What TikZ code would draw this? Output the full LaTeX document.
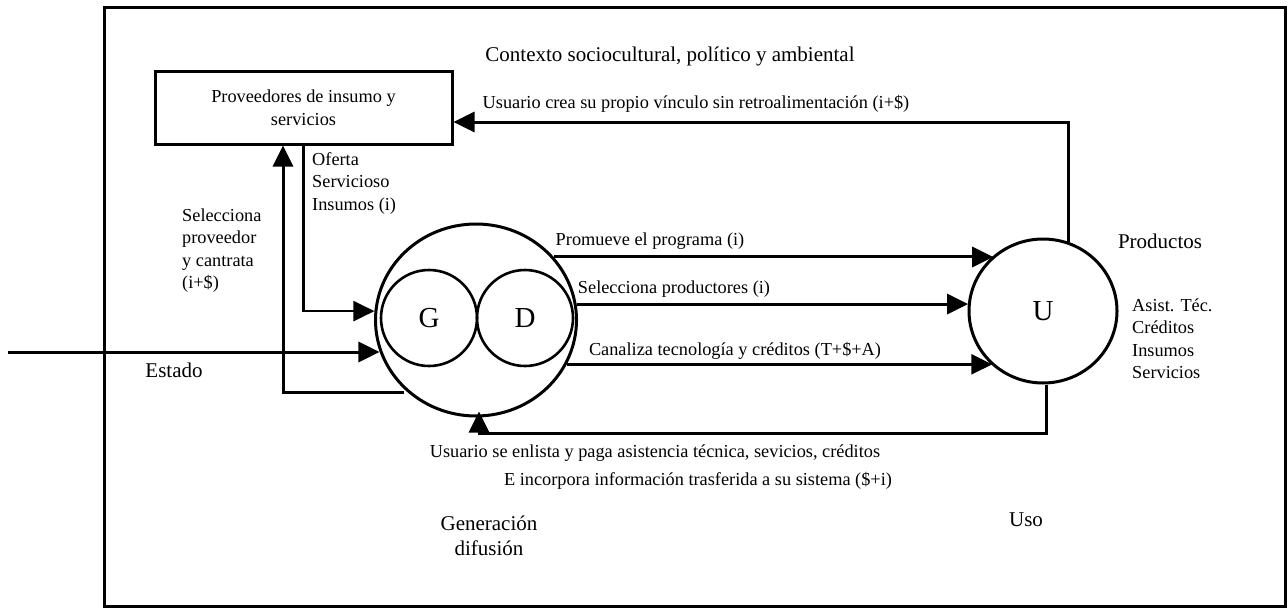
\documentclass[tikz,border=0pt]{standalone}
\usepackage{fontspec}
\setmainfont{Liberation Serif}
\usetikzlibrary{arrows.meta,shapes.geometric}
\begin{document}
\begin{tikzpicture}[x=1pt,y=-1pt,
  lbl/.style={inner sep=0pt, font=\fontsize{18.3}{22.5}\selectfont},
  big/.style={inner sep=0pt, font=\fontsize{21}{25}\selectfont},
  letter/.style={inner sep=0pt, font=\fontsize{29}{29}\selectfont},
  conn/.style={line width=3pt, -{Triangle[length=21pt,width=20pt]}},
  thinconn/.style={line width=2.2pt, -{Triangle[length=21pt,width=20pt]}},
  plain/.style={line width=3pt}]
\useasboundingbox (0,0) rectangle (1288,608);
% frame
\draw[plain] (104,7) rectangle (1285,606);
% nodes
\node[draw, line width=3pt, minimum width=297pt, minimum height=73pt,
      align=center, lbl] (prov) at (303.5,107.5) {Proveedores de insumo y\\servicios};
\node[ellipse, draw, line width=3pt, minimum width=201pt, minimum height=192pt,
      inner sep=0pt] (gd) at (476,320) {};
\node[circle, draw, line width=2.6pt, minimum size=96pt, letter] (g) at (429,318) {G};
\node[circle, draw, line width=2.6pt, minimum size=96pt, letter] (d) at (525,318) {D};
\node[ellipse, draw, line width=3pt, minimum width=148pt, minimum height=144pt,
      letter] (u) at (1043,311) {U};
\coordinate (est0) at (8,352);
% connectors
\draw[conn] (est0) -- (est0 -| gd.198.6);
\draw[conn] (gd.39.7) -- (gd.39.7 -| u.132.2);
\draw[conn] (gd.9.7) -- (gd.9.7 -| u.173.8);
\draw[conn] (gd.-26.9) -- (gd.-26.9 -| u.227.8);
\draw[conn] (u.70.6) |- ([yshift=-14.5pt]prov.east);
\draw[conn] ([xshift=3pt]u.south) |- ([xshift=3pt,yshift=-16pt]gd.south)
            -- ([xshift=3pt,yshift=6pt]gd.south);
\draw[conn] ([xshift=-4pt]gd.227.3) -| ([xshift=-20.5pt]prov.south);
\draw[thinconn] (prov.south) |- (gd.175.4);
% labels
\node[big, anchor=base] (ctx) at (670,61) {Contexto sociocultural, político y ambiental};
\node[lbl, anchor=base] (l1) at (696,108) {Usuario crea su propio vínculo sin retroalimentación (i+\$)};
\node[lbl, anchor=base] (l2) at (650,245) {Promueve el programa (i)};
\node[lbl, anchor=base] (l3) at (674,293) {Selecciona productores (i)};
\node[lbl, anchor=base] (l4) at (735,355) {Canaliza tecnología y créditos (T+\$+A)};
\node[big, anchor=base] (prod) at (1160,248) {Productos};
\node[big, anchor=base] (est) at (174,377) {Estado};
\node[lbl, anchor=base] (l5) at (655,457) {Usuario se enlista y paga asistencia técnica, sevicios, créditos};
\node[lbl, anchor=base] (l6) at (698,485) {E incorpora información trasferida a su sistema (\$+i)};
\node[big, anchor=base] (uso) at (1026,526) {Uso};
\node[big, align=center, anchor=north] (gen) at (489,512.5) {\strut Generación\\difusión};
\node[lbl, align=left, anchor=north west] (of) at (312,149.25) {\strut Oferta\\Servicioso\\Insumos (i)};
\node[lbl, align=left, anchor=north west] (sel) at (182,205.25) {\strut Selecciona\\proveedor\\y cantrata\\(i+\$)};
\node[lbl, align=left, anchor=north west] (asis) at (1132,295.25) {\strut Asist. Téc.\\Créditos\\Insumos\\Servicios};
\end{tikzpicture}
\end{document}
